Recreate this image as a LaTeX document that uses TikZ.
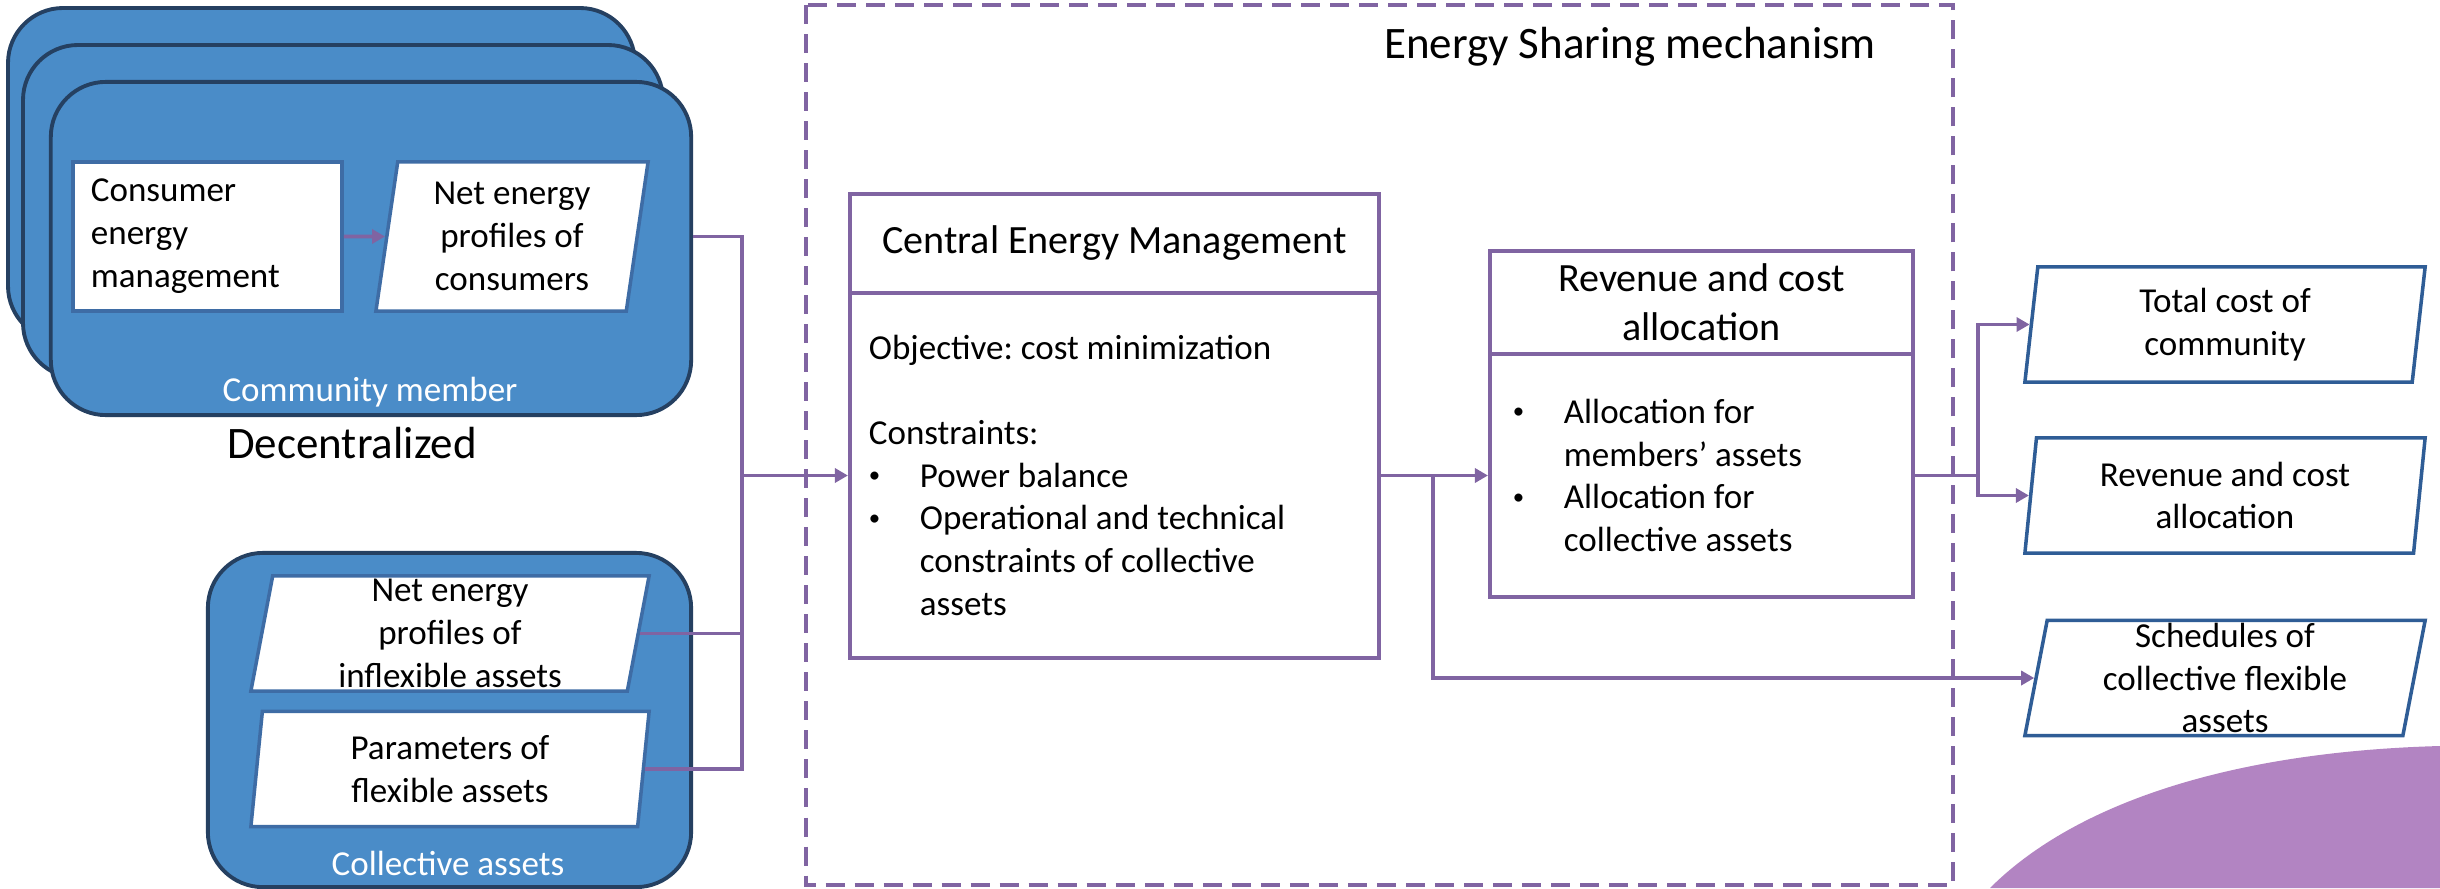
\documentclass[tikz,border=0pt]{standalone}
\usepackage{fontspec}
\setmainfont{Carlito}
\usetikzlibrary{shapes.geometric,arrows.meta}
\newcommand{\bulletmark}{\makebox[0.51cm][l]{\raisebox{0.25ex}{\fontsize{6.5}{6.5}\selectfont\textbullet}}}
\frenchspacing

\begin{document}
\begin{tikzpicture}[x=0.01cm,y=-0.01cm,
  font=\fontsize{9.96}{12.2}\selectfont,
  card/.style={draw=cardline,fill=cardfill,line width=1.1pt,rounded corners=0.55cm},
  inbox/.style={draw=inline,fill=white,line width=1pt,inner sep=0pt},
  par/.style={trapezium,trapezium left angle=76,trapezium right angle=104,
    trapezium stretches body,draw=inline,fill=white,line width=1pt,
    align=center,inner xsep=0pt,inner ysep=-3pt,minimum height=1.15cm},
  outpar/.style={par,draw=outline,minimum width=4cm},
  box/.style={draw=esm,fill=white,line width=1.1pt,inner sep=0pt},
  bigtext/.style={font=\fontsize{12.8}{15}\selectfont},
  titletext/.style={font=\fontsize{11.4}{13.9}\selectfont,align=center},
  line/.style={draw=esm,line width=1pt},
  flow/.style={line,-{Triangle[length=0.13cm,width=0.14cm]}}]
% Define colours
\definecolor{cardfill}{RGB}{74,140,200}
\definecolor{cardline}{RGB}{37,64,97}
\definecolor{inline}{RGB}{62,108,165}
\definecolor{outline}{RGB}{47,93,150}
\definecolor{esm}{RGB}{128,100,162}
\definecolor{blob}{RGB}{178,132,194}

\useasboundingbox (0,0) rectangle (2440,888);

% Draw background blob
\fill[blob] (1990,888) .. controls (2070,808) and (2220,752) .. (2440,746) -- (2440,888) -- cycle;

% Draw community member cards
\draw[card] (8,8) rectangle (635,341);
\draw[card] (23,45) rectangle (663,378);
\node[card,minimum width=6.4cm,minimum height=3.33cm] (member) at (371,248.5) {};
\node[inbox,minimum width=2.69cm,minimum height=1.49cm,text width=2.33cm,align=flush left] (ceman) at (207.5,236.5) {Consumer\\energy\\management};
\node[par,minimum width=2.72cm,minimum height=1.49cm] (netcons) at (512,236.5) {Net energy\\profiles of\\consumers};
\node[white] (memlabel) at (370,392) {Community member};
\node[bigtext] (decent) at (352,443) {Decentralized};

% Draw collective assets
\node[card,minimum width=4.83cm,minimum height=3.34cm] (coll) at (449.5,720) {};
\node[par,minimum width=3.98cm] (inflex) at (450,633.5) {Net energy\\profiles of\\inflexible assets};
\node[par,minimum width=3.98cm] (flexp) at (450,769) {Parameters of\\flexible assets};
\node[white] (colllabel) at (448,863) {Collective assets};

% Draw energy sharing mechanism
\draw[esm,line width=1.1pt,dash pattern=on 0.19cm off 0.1cm] (806,5) rectangle (1953,885);
\node[bigtext] (esmlabel) at (1630,47) {Energy Sharing mechanism};

% Central energy management
\node[box,titletext,minimum width=5.29cm,minimum height=0.99cm] (cemtitle) at (1114.5,243.5) {Central Energy Management};
\node[box,minimum width=5.29cm,minimum height=3.65cm,text width=4.91cm,align=flush left] (cembody) at (1114.5,475.5) {Objective: cost minimization\\[0.42cm]
Constraints:\\
\bulletmark Power balance\\
\bulletmark Operational and technical\\
\hspace*{0.51cm}constraints of collective\\
\hspace*{0.51cm}assets};

% Revenue and cost allocation
\node[box,titletext,minimum width=4.23cm,minimum height=1.03cm] (revtitle) at (1701.5,302.5) {Revenue and cost\\allocation};
\node[box,minimum width=4.23cm,minimum height=2.42cm,text width=3.77cm,align=flush left] (revbody) at (1701.5,475.5) {\bulletmark Allocation for\\
\hspace*{0.51cm}members’ assets\\
\bulletmark Allocation for\\
\hspace*{0.51cm}collective assets};

% Draw outputs
\node[outpar] (otc) at (2225,324.5) {Total cost of\\community};
\node[outpar] (orca) at (2225,495.5) {Revenue and cost\\allocation};
\node[outpar] (osched) at (2225,678) {Schedules of\\collective flexible\\assets};

% Add arrows
\draw[flow] (ceman) -- (netcons);
\coordinate (bus) at (742,475.5);
\draw[line] (member.east |- netcons.east) -| (bus);
\draw[line] (inflex.east) -| (bus);
\draw[line] (flexp.east) -| (bus);
\draw[flow] (bus) -- (cembody);
\draw[flow] (cembody) -- (revbody);
\draw[flow] ([xshift=0.52cm]cembody.east) |- (osched);
\coordinate (split) at ([xshift=0.63cm]revbody.east);
\draw[line] (revbody.east) -- (split);
\draw[flow] (split) |- (otc);
\draw[flow] (split) |- (orca);
\end{tikzpicture}
\end{document}
